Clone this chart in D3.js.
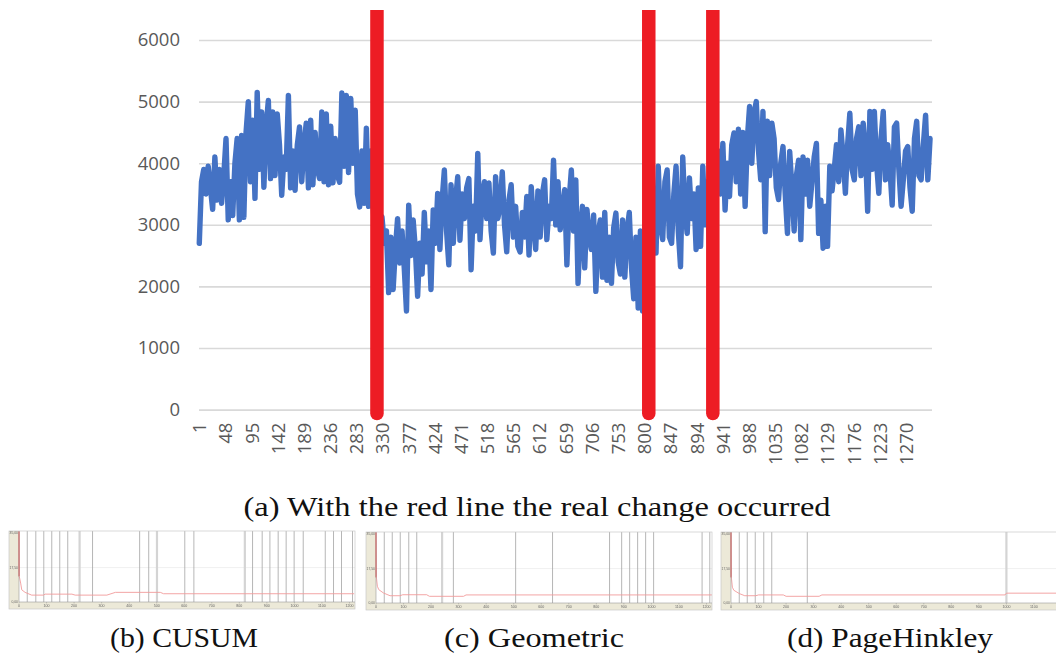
<!DOCTYPE html>
<html>
<head>
<meta charset="utf-8">
<script src="https://cdn.jsdelivr.net/npm/d3@7"></script>
<style>
  body { margin: 0; background: #fff; }
  svg { display: block; }
</style>
</head>
<body>
<svg id="fig" width="1056" height="656"></svg>
<script>
// ---- main series: one reading every `sampleStep` rows, starting at row 1 ----
const sampleStep = 4;
const categoryCount = 1316;
const series = [
  2700, 3700, 3900, 3500, 3950, 3600, 3250, 4100, 3400, 3900,
  3350, 3800, 4400, 3080, 3700, 3150, 4000, 4400, 3080, 4450,
  3120, 4500, 5000, 3700, 4700, 3430, 5150, 3900, 4830, 3610,
  4600, 5020, 3750, 4830, 3800, 4800, 4300, 3480, 4100, 3900,
  5100, 3600, 4200, 3560, 4300, 4590, 3700, 4300, 4650, 3600,
  4700, 3650, 4500, 3900, 3750, 4830, 3700, 4800, 3650, 4600,
  3680, 4400, 3800, 3690, 5140, 3950, 5100, 3850, 5050, 4000,
  4860, 3500, 3290, 4200, 3350, 4570, 3300, 4200, 3400,
  2500, 3100, 2400, 3130, 2700, 2900, 1900, 2800, 1950, 2600,
  3100, 2380, 2900, 2300, 1600, 3320, 2500, 3080, 2600, 1840,
  2700, 2200, 3200, 2400, 2900, 1950, 3240, 2700, 3510, 2600,
  3400, 3890, 2900, 2350, 3650, 2700, 3400, 3780, 2750, 3500,
  3100, 3600, 3750, 2270, 3300, 2900, 4160, 2760, 3500, 3700,
  3100, 3680, 2900, 2540, 3780, 3100, 3300, 3860, 3000, 2560,
  3400, 3650, 2800, 3300, 2650, 2560, 3200, 2800, 3460, 2510,
  3620, 3000, 2600, 3550, 2800, 3500, 3730, 2760, 3300, 3100,
  4050, 3000, 3700, 2920,
  3250, 3570, 2350, 3400, 3890, 2900, 3730, 2050, 2900, 3300,
  2300, 3250, 2810, 2600, 3160, 1920, 2850, 3080, 2150, 3200,
  2100, 2800, 2050, 2950, 3190, 2400, 2200, 3080, 2150, 2900,
  3200, 2300, 1800, 2800, 1650, 2900, 1600, 2700, 3300, 2400,
  3200, 3430, 2540, 3950, 3000, 2760, 3700, 3890, 2800, 2700,
  3500, 3950, 2900, 2320, 4100, 3200, 2860, 3760, 3100, 3500,
  2600, 3600, 2650, 3950, 3000, 3700, 2700, 3900, 3200, 3800,
  4200, 3500, 4320, 3240, 4000, 3460, 4300, 4490, 3700, 4550,
  3500, 4500, 3300, 4400, 4920, 4000, 4810, 5000, 4200, 3730,
  4840, 2890, 4680, 3800, 4650, 4400, 3600, 3410, 4000, 4270,
  3500, 2860, 4190, 3600, 2900, 3800, 4050, 2760, 4100, 3500,
  4050, 3300, 3700, 4100, 4320, 2860, 3400, 2620, 3300, 2650,
  3950, 3550, 3900, 4300, 3700, 4540, 4100, 3510, 4300, 4810,
  3900, 3730, 4400, 4590, 3800, 4650, 4200, 3220, 4840, 3900,
  4840, 4000, 3510, 4400, 4840, 3730, 4300, 3900, 3320, 4590,
  4650, 3900, 3300, 3730, 4200, 4270, 3600, 3220, 4400, 4680,
  3800, 3730, 4300, 4780, 3730, 4400
];
const yTicks = [0, 1000, 2000, 3000, 4000, 5000, 6000];
const xTickLabels = ["1", "48", "95", "142", "189", "236", "283", "330", "377", "424",
  "471", "518", "565", "612", "659", "706", "753", "800", "847", "894", "941", "988",
  "1035", "1082", "1129", "1176", "1223", "1270"];
const changePoints = [320, 808, 923];

// ---- detector panels: alarm positions and error curves [instance, value] ----
const cusumAlarms = [30, 61, 90, 119, 148, 177, 267, 438, 471, 602, 635, 848, 883,
  911, 941, 970, 999, 1032, 1112, 1142, 1171, 1211];
const cusumFaint = [220, 501, 820];
const cusumCurve = [[0, 36], [1, 13], [6, 9.6], [10, 6.2], [22, 4.9], [46, 3.5],
  [89, 3.5], [95, 4.0], [192, 4.0], [204, 3.5], [319, 3.5], [350, 4.9], [513, 4.9],
  [525, 4.2], [1217, 4.2]];

const geometricAlarms = [30, 59, 88, 119, 148, 281, 507, 641, 848, 892, 921, 950,
  979, 1008, 1184, 1212];
const geometricFaint = [240];
const geometricCurve = [[0, 36], [1, 13.5], [5, 8.5], [10, 6.8], [27, 5.1], [51, 3.7],
  [87, 3.7], [97, 4.2], [184, 4.2], [194, 3.4], [318, 3.4], [327, 4.1], [1220, 4.1]];

const pageHinkleyAlarms = [30, 59, 88, 119, 148, 277];
const pageHinkleyFaint = [1000];
const pageHinkleyCurve = [[0, 36], [1, 13.5], [5, 8], [10, 6.5], [30, 4.8], [50, 3.7],
  [90, 3.7], [100, 4.1], [190, 4.1], [200, 3.4], [320, 3.4], [330, 4.1], [995, 4.1],
  [1000, 5.0], [1185, 5.0], [1190, 4.2], [1220, 4.5]];

const panelXTicks = [0, 100, 200, 300, 400, 500, 600, 700, 800, 900, 1000, 1100, 1200];
const panelYTicks = [0, 17.5, 35];
const panelYLabels = ["0,00", "17,50", "35,00"];

const captions = [
  { text: "(a) With the red line the real change occurred", cx: 537, base: 516, w: 587 },
  { text: "(b) CUSUM", cx: 184, base: 647, w: 148 },
  { text: "(c) Geometric", cx: 534, base: 647, w: 180 },
  { text: "(d) PageHinkley", cx: 890, base: 647, w: 206 }
];

// ---------------------------------------------------------------------------
const W = 1056;
const svg = d3.select("#fig");
const plotL = 199, plotR = 932;

const x = d3.scaleBand().domain(d3.range(1, categoryCount + 1)).range([plotL, plotR]);
const xc = i => x(i) + x.bandwidth() / 2;
const y = d3.scaleLinear().domain([0, 6000]).range([409.6, 40]);

const axisFont = "'Open Sans', 'Liberation Sans', sans-serif";

// value axis with horizontal gridlines
const yAxis = svg.append("g")
  .attr("transform", `translate(${plotL},0)`)
  .call(d3.axisLeft(y).tickValues(yTicks).tickFormat(d3.format("d"))
    .tickSizeInner(-(plotR - plotL)).tickSizeOuter(0).tickPadding(19));
yAxis.select(".domain").remove();
yAxis.selectAll(".tick line").attr("stroke", "#d9d9d9").attr("stroke-width", 1.6);
yAxis.selectAll(".tick text")
  .attr("fill", "#595959").style("font-family", axisFont).style("font-size", "18.5px");

// category axis, labels rotated
const xAxis = svg.append("g")
  .attr("transform", `translate(0,${y(0)})`)
  .call(d3.axisBottom(x).tickValues(xTickLabels.map(Number)).tickSize(0));
xAxis.select(".domain").remove();
xAxis.selectAll(".tick text")
  .attr("transform", "rotate(-90)")
  .attr("text-anchor", "end")
  .attr("x", -13).attr("y", 0).attr("dy", "0.36em")
  .attr("fill", "#595959").style("font-family", axisFont).style("font-size", "18.5px");

// series line
const line = d3.line()
  .x((d, i) => xc(1 + i * sampleStep))
  .y(d => y(d));
svg.append("path")
  .datum(series)
  .attr("d", line)
  .attr("fill", "none")
  .attr("stroke", "#4472c4")
  .attr("stroke-width", 5.4)
  .attr("stroke-linejoin", "round")
  .attr("stroke-linecap", "round");

// change markers (flat top, rounded foot)
svg.append("clipPath").attr("id", "markClip")
  .append("rect").attr("x", 0).attr("y", 10).attr("width", W).attr("height", 420);
svg.append("g").attr("clip-path", "url(#markClip)")
  .selectAll("line").data(changePoints).join("line")
  .attr("x1", d => xc(d)).attr("x2", d => xc(d))
  .attr("y1", 0).attr("y2", y(0) + 4)
  .attr("stroke", "#ed1c24").attr("stroke-width", 13.5).attr("stroke-linecap", "round");

// ---- detector panels ----
const defs = svg.append("defs");
defs.append("filter").attr("id", "soft")
  .append("feGaussianBlur").attr("stdDeviation", 0.35);

function drawPanel(left, top, alarms, faint, curve) {
  const w = 336, h = 71, strip = 10, foot = 7;
  const g = svg.append("g").attr("filter", "url(#soft)");
  const px = d3.scaleLinear().domain([0, 1220]).range([left, left + w]);
  const py = d3.scaleLinear().domain([0, 36.08]).range([top + h, top]);

  g.append("rect").attr("x", left - strip).attr("y", top).attr("width", strip).attr("height", h + foot)
    .attr("fill", "#ece9d8");
  g.append("rect").attr("x", left).attr("y", top + h).attr("width", w).attr("height", foot)
    .attr("fill", "#ece9d8");
  g.append("rect").attr("x", left).attr("y", top).attr("width", w).attr("height", h)
    .attr("fill", "#fff");
  // midline
  g.append("line").attr("x1", left).attr("x2", left + w)
    .attr("y1", py(17.5)).attr("y2", py(17.5)).attr("stroke", "#e6e6e6").attr("stroke-width", 0.6);

  g.selectAll(".faint").data(faint).join("line")
    .attr("x1", d => px(d)).attr("x2", d => px(d)).attr("y1", top).attr("y2", top + h)
    .attr("stroke", "#d4d4d4").attr("stroke-width", 2.2);
  g.selectAll(".alarm").data(alarms).join("line")
    .attr("x1", d => px(d)).attr("x2", d => px(d)).attr("y1", top).attr("y2", top + h)
    .attr("stroke", "#a3a3a3").attr("stroke-width", 0.8);

  g.append("path").datum(curve)
    .attr("d", d3.line().x(d => px(d[0])).y(d => py(d[1])))
    .attr("fill", "none").attr("stroke", "#f29b9b").attr("stroke-width", 0.9);
  g.append("line").attr("x1", px(0)).attr("x2", px(0)).attr("y1", py(36)).attr("y2", py(13))
    .attr("stroke", "#d04040").attr("stroke-width", 0.9);

  // frame
  g.append("rect").attr("x", left - strip).attr("y", top).attr("width", w + strip).attr("height", h + foot)
    .attr("fill", "none").attr("stroke", "#c8c8c8").attr("stroke-width", 0.7);
  g.append("line").attr("x1", left).attr("x2", left).attr("y1", top).attr("y2", top + h)
    .attr("stroke", "#9a9a9a").attr("stroke-width", 0.6);
  g.append("line").attr("x1", left).attr("x2", left + w).attr("y1", top + h).attr("y2", top + h)
    .attr("stroke", "#9a9a9a").attr("stroke-width", 0.6);

  // tiny tick labels (only those that fall inside the page)
  const shown = panelXTicks.filter(d => px(d) + 5 < W);
  g.selectAll(".xl").data(shown).join("text")
    .attr("x", d => px(d)).attr("y", top + h + 5)
    .attr("text-anchor", "middle").attr("fill", "#666")
    .style("font-family", "'Liberation Sans', sans-serif").style("font-size", "3.6px")
    .text(d => d);
  g.selectAll(".xt").data(shown).join("line")
    .attr("x1", d => px(d)).attr("x2", d => px(d)).attr("y1", top + h).attr("y2", top + h + 1.5)
    .attr("stroke", "#888").attr("stroke-width", 0.4);
  g.selectAll(".yl").data(panelYTicks).join("text")
    .attr("x", left - 1).attr("y", d => py(d) + 1.2)
    .attr("text-anchor", "end").attr("fill", "#666")
    .style("font-family", "'Liberation Sans', sans-serif").style("font-size", "3.4px")
    .text((d, i) => panelYLabels[i]);
}

drawPanel(19, 531, cusumAlarms, cusumFaint, cusumCurve);
drawPanel(376, 532, geometricAlarms, geometricFaint, geometricCurve);
drawPanel(731, 532, pageHinkleyAlarms, pageHinkleyFaint, pageHinkleyCurve);

// ---- captions ----
svg.selectAll(".cap").data(captions).join("text")
  .attr("x", d => d.cx).attr("y", d => d.base)
  .attr("text-anchor", "middle")
  .attr("textLength", d => d.w).attr("lengthAdjust", "spacingAndGlyphs")
  .attr("fill", "#111")
  .style("font-family", "'Liberation Serif', 'DejaVu Serif', serif")
  .style("font-size", "27px")
  .text(d => d.text);
</script>
</body>
</html>
